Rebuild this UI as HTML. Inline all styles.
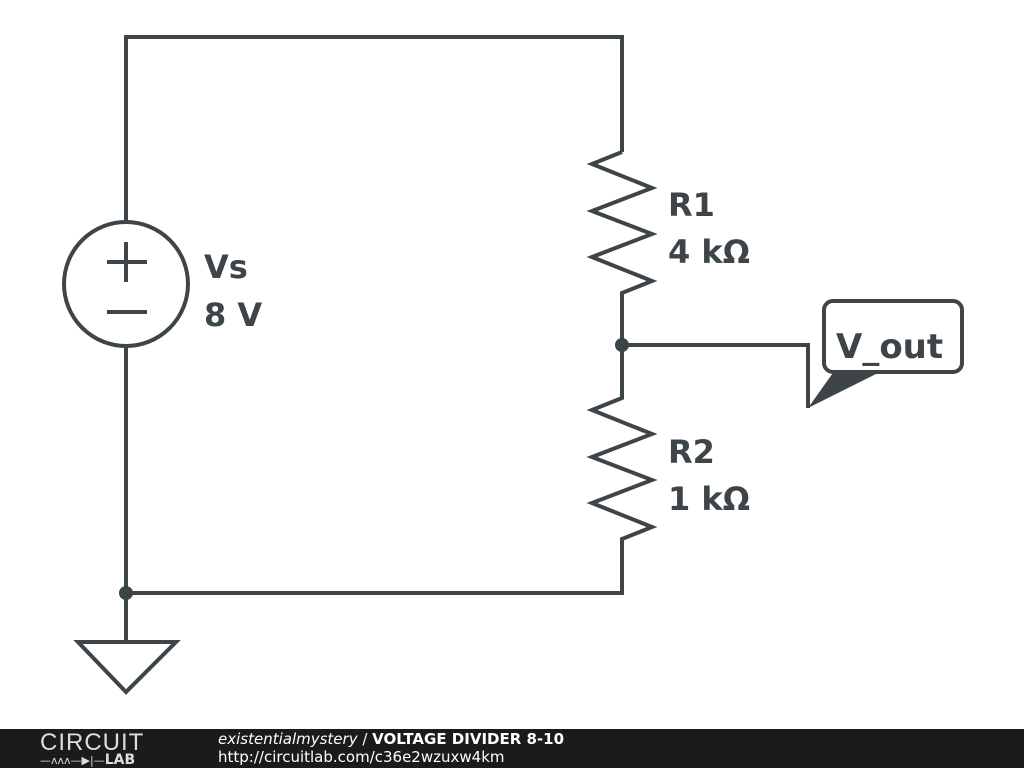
<!DOCTYPE html>
<html><head><style>
body{margin:0;width:1024px;height:768px;background:#fff;overflow:hidden;position:relative;font-family:"DejaVu Sans","Liberation Sans",sans-serif}
#ft{position:absolute;left:0;top:729px;width:1024px;height:39px;background:#1b1b1b;color:#fff}
</style></head><body>
<svg width="1024" height="729" style="position:absolute;left:0;top:0">
<g stroke="#3d4549" stroke-width="4" fill="none" stroke-linejoin="miter">
<polyline points="126,222 126,37 622,37 622,152"/>
<polyline points="622,152 592,164 652,188 592,211 652,234 592,257 652,281 622,293 622,398 592,410 652,434 592,457 652,480 592,503 652,527 622,539 622,593 126,593 126,346"/>
<line x1="126" y1="593" x2="126" y2="642"/>
<polygon points="78,642 176,642 126,692"/>
<circle cx="126" cy="284" r="62"/>
<line x1="107" y1="262" x2="147" y2="262"/>
<line x1="126" y1="242" x2="126" y2="282"/>
<line x1="107" y1="312" x2="147" y2="312"/>
<polyline points="622,345 808,345 808,408"/>
<rect x="824" y="301" width="138" height="71" rx="9"/>
</g>
<polygon points="808,408 835,370 884,370" fill="#3d4549"/>
<circle cx="622" cy="345" r="7" fill="#3d4549"/>
<circle cx="126" cy="593" r="7" fill="#3d4549"/>
<g fill="#3d4549" font-weight="bold" font-size="32">
<text x="204" y="278">Vs</text><text x="204" y="326">8 V</text>
<text x="668" y="216">R1</text><text x="668" y="263">4 kΩ</text>
<text x="668" y="463">R2</text><text x="668" y="510">1 kΩ</text>
<text x="836" y="358" font-size="34">V_out</text>
</g>
</svg>
<div id="ft">
<div style="position:absolute;left:40px;top:0px;font-size:24px;letter-spacing:1px;font-weight:300;color:#ddd;font-family:'Liberation Sans',sans-serif">CIRCUIT</div>
<div style="position:absolute;left:40px;top:23px;font-size:11px;color:#ddd">—ʌʌʌ—▶|—<b style="font-size:14px">LAB</b></div>
<div style="position:absolute;left:218px;top:1px;font-size:15px"><i>existentialmystery</i> / <b>VOLTAGE DIVIDER 8-10</b></div>
<div style="position:absolute;left:218px;top:19px;font-size:15px">http://circuitlab.com/c36e2wzuxw4km</div>
</div>
</body></html>
